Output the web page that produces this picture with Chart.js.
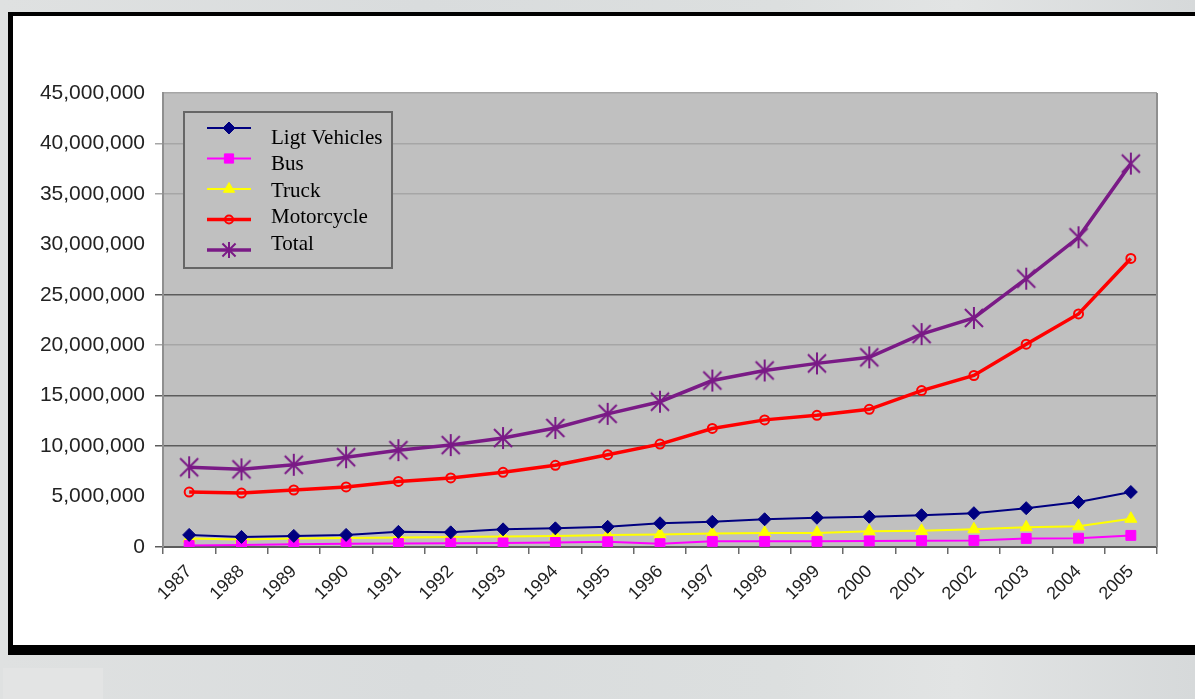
<!DOCTYPE html>
<html>
<head>
<meta charset="utf-8">
<script src="https://cdn.jsdelivr.net/npm/chart.js@4.4.1/dist/chart.umd.min.js"></script>
<style>
  html, body { margin: 0; padding: 0; width: 1195px; height: 699px; overflow: hidden; }
  body {
    position: relative;
    background: linear-gradient(90deg, #dfe1e1 0%, #d9dcdd 35%, #dcdfdf 65%, #e2e4e4 80%, #d6d9da 100%);
  }
  #patch { position: absolute; left: 3px; top: 668px; width: 100px; height: 31px; background: #e3e4e4; }
  #frame {
    position: absolute; left: 8px; top: 12px; width: 1195px; height: 629px;
    background: #fff;
    border-top: 4px solid #000; border-left: 5px solid #000; border-bottom: 10px solid #000;
  }
  #c { position: absolute; left: 0; top: 0; }
</style>
</head>
<body>
<div id="patch"></div>
<div id="frame"></div>
<canvas id="c" width="1195" height="699"></canvas>
<script>
// Registered vehicles per year
const years = ['1987','1988','1989','1990','1991','1992','1993','1994','1995','1996',
               '1997','1998','1999','2000','2001','2002','2003','2004','2005'];

const lightVehicles = [1200000, 1000000, 1100000, 1200000, 1500000, 1450000, 1750000, 1850000, 2000000, 2350000,
                       2500000, 2750000, 2900000, 3000000, 3150000, 3350000, 3850000, 4450000, 5450000];
const bus = [150000, 200000, 280000, 330000, 350000, 380000, 400000, 450000, 520000, 330000,
             560000, 560000, 560000, 600000, 620000, 650000, 850000, 870000, 1150000];
const truck = [850000, 750000, 850000, 900000, 950000, 1000000, 1050000, 1100000, 1200000, 1250000,
               1350000, 1400000, 1400000, 1550000, 1600000, 1750000, 1950000, 2050000, 2800000];
const motorcycle = [5450000, 5350000, 5650000, 5950000, 6500000, 6850000, 7400000, 8100000, 9150000, 10200000,
                    11750000, 12600000, 13050000, 13650000, 15500000, 17000000, 20100000, 23100000, 28600000];
const total = [7900000, 7700000, 8150000, 8900000, 9600000, 10100000, 10800000, 11800000, 13200000, 14400000,
               16500000, 17500000, 18200000, 18800000, 21100000, 22700000, 26600000, 30700000, 38000000];

const yTicksMax = 45000000;
const yTickStep = 5000000;

// Six-armed asterisk marker
function makeAsterisk(size, color, lw) {
  const cv = document.createElement('canvas');
  cv.width = size; cv.height = size;
  const g = cv.getContext('2d');
  const m = size / 2, r = size / 2 - 1;
  const d = r * 0.82;
  g.strokeStyle = color; g.lineWidth = lw;
  g.beginPath();
  g.moveTo(m - d, m - d); g.lineTo(m + d, m + d);
  g.moveTo(m + d, m - d); g.lineTo(m - d, m + d);
  g.moveTo(m, m - r); g.lineTo(m, m + r);
  g.stroke();
  return cv;
}
const starImg = makeAsterisk(24, '#7a1a86', 2);
const starSmall = makeAsterisk(18, '#7a1a86', 2);

// Plot background and right edge
const plotBackground = {
  id: 'plotBackground',
  beforeDraw(chart) {
    const { ctx, chartArea: a } = chart;
    ctx.save();
    ctx.fillStyle = '#c0c0c0';
    ctx.fillRect(a.left, a.top, a.right - a.left, a.bottom - a.top);
    ctx.restore();
  },
  afterDraw(chart) {
    const { ctx, chartArea: a } = chart;
    ctx.save();
    ctx.strokeStyle = '#8f8f8f';
    ctx.lineWidth = 2;
    ctx.beginPath();
    ctx.moveTo(a.right, a.top); ctx.lineTo(a.right, a.bottom);
    ctx.stroke();
    ctx.restore();
  }
};

// Boxed legend inside the plot area
const innerLegend = {
  id: 'innerLegend',
  afterDraw(chart) {
    const { ctx } = chart;
    const bx = 184, by = 112, bw = 208, bh = 156;
    ctx.save();
    ctx.fillStyle = '#c0c0c0';
    ctx.fillRect(bx, by, bw, bh);
    ctx.strokeStyle = '#666';
    ctx.lineWidth = 2;
    ctx.strokeRect(bx, by, bw, bh);
    chart.data.datasets.forEach((ds, i) => {
      const ly = 128 + i * 30.5;
      const ty = 138 + i * 26.5;
      ctx.strokeStyle = ds.borderColor;
      ctx.lineWidth = ds.borderWidth;
      ctx.beginPath();
      ctx.moveTo(207, ly); ctx.lineTo(251, ly);
      ctx.stroke();
      const style = ds.pointStyle;
      if (style === starImg) {
        ctx.drawImage(starSmall, 229 - 9, ly - 9);
      } else {
        ctx.fillStyle = ds.pointBackgroundColor;
        ctx.strokeStyle = ds.pointBorderColor;
        ctx.lineWidth = ds.pointBorderWidth;
        Chart.helpers.drawPoint(ctx, {
          pointStyle: style,
          radius: ds.pointRadius - 0.5,
          borderWidth: ds.pointBorderWidth,
          rotation: 0
        }, 229, ly);
      }
      ctx.fillStyle = '#000';
      ctx.font = '21px "Liberation Serif", "Times New Roman", serif';
      ctx.textBaseline = 'middle';
      ctx.textAlign = 'left';
      ctx.fillText(ds.label, 271, ty);
    });
    ctx.restore();
  }
};

const darkLines = [0, 10000000, 15000000, 25000000];
const lightLines = [20000000, 35000000, 40000000, 45000000];
function gridColor(v) {
  if (darkLines.includes(v)) return '#5c5c5c';
  if (lightLines.includes(v)) return '#a6a6a6';
  return 'rgba(0,0,0,0)';
}
function tickMarkColor(v) {
  if (v === yTicksMax) return 'rgba(0,0,0,0)';
  return gridColor(v);
}

new Chart(document.getElementById('c'), {
  type: 'line',
  data: {
    labels: years,
    datasets: [
      { label: 'Ligt Vehicles', data: lightVehicles, borderColor: '#000080', borderWidth: 2,
        pointStyle: 'rectRot', pointRadius: 6.5, pointBackgroundColor: '#000080', pointBorderColor: '#000080', pointBorderWidth: 1 },
      { label: 'Bus', data: bus, borderColor: '#ff00ff', borderWidth: 2,
        pointStyle: 'rect', pointRadius: 7, pointBackgroundColor: '#ff00ff', pointBorderColor: '#ff00ff', pointBorderWidth: 1 },
      { label: 'Truck', data: truck, borderColor: '#ffff00', borderWidth: 2,
        pointStyle: 'triangle', pointRadius: 7, pointBackgroundColor: '#ffff00', pointBorderColor: '#ffff00', pointBorderWidth: 1 },
      { label: 'Motorcycle', data: motorcycle, borderColor: '#ff0000', borderWidth: 3.5,
        pointStyle: 'circle', pointRadius: 4.5, pointBackgroundColor: 'rgba(0,0,0,0)', pointBorderColor: '#ff0000', pointBorderWidth: 2 },
      { label: 'Total', data: total, borderColor: '#7a1a86', borderWidth: 3.5,
        pointStyle: starImg, pointRadius: 11, pointBackgroundColor: '#7a1a86', pointBorderColor: '#7a1a86', pointBorderWidth: 2 }
    ]
  },
  options: {
    responsive: false,
    animation: false,
    events: [],
    layout: { padding: { left: 0, top: 93, right: 38, bottom: 0 } },
    plugins: { legend: { display: false }, tooltip: { enabled: false }, title: { display: false } },
    elements: { line: { tension: 0 } },
    scales: {
      x: {
        offset: true,
        afterFit(s) { s.height = 152; },
        grid: { offset: true, drawOnChartArea: false, drawTicks: true, tickLength: 7, color: '#6a6a6a', lineWidth: 1.5 },
        border: { color: '#5c5c5c', width: 2 },
        ticks: {
          autoSkip: false, minRotation: 45, maxRotation: 45, padding: 7,
          color: '#222',
          font: { family: '"Liberation Sans", Arial, sans-serif', size: 18 }
        }
      },
      y: {
        min: 0, max: yTicksMax,
        afterFit(s) { s.width = 163; },
        grid: {
          color: c => gridColor(c.tick.value),
          tickColor: c => tickMarkColor(c.tick.value),
          lineWidth: 1.5,
          tickLength: 8
        },
        border: { color: '#8f8f8f', width: 2 },
        ticks: {
          stepSize: yTickStep, padding: 10,
          color: '#222',
          font: { family: '"Liberation Sans", Arial, sans-serif', size: 21 },
          callback: v => v.toLocaleString('en-US')
        }
      }
    }
  },
  plugins: [plotBackground, innerLegend]
});
</script>
</body>
</html>
